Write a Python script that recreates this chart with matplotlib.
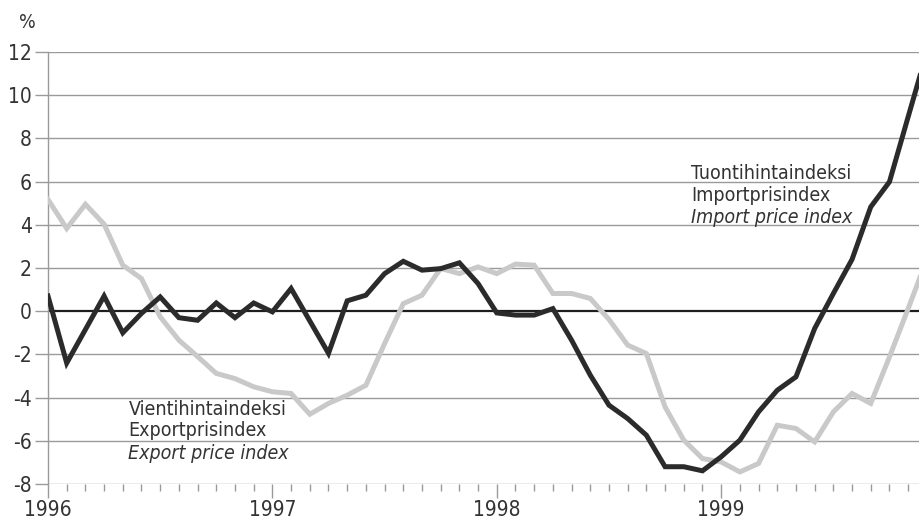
import numpy as np
import matplotlib
matplotlib.use("Agg")
import matplotlib.pyplot as plt

# monthly values, Jan 1996 .. Dec 1999 (month index 0..47)
months = np.arange(48)
import_index = [0.7, -2.4, -0.85, 0.7, -1.0, -0.1, 0.66, -0.3, -0.42, 0.38,
                -0.3, 0.38, -0.03, 1.05, -0.45, -1.95, 0.48, 0.74, 1.74, 2.31,
                1.9, 1.97, 2.24, 1.28, -0.08, -0.18, -0.18, 0.12, -1.34, -2.96,
                -4.35, -4.97, -5.74, -7.2, -7.2, -7.39, -6.74, -5.97, -4.66, -3.66,
                -3.04, -0.8, 0.82, 2.4, 4.83, 5.99, 9.0, 12.0]
export_index = [5.17, 3.83, 4.95, 4.03, 2.13, 1.51, -0.26, -1.34, -2.1, -2.88,
                -3.12, -3.5, -3.73, -3.81, -4.77, -4.27, -3.89, -3.43, -1.5, 0.35,
                0.74, 1.98, 1.74, 2.05, 1.74, 2.18, 2.13, 0.82, 0.82, 0.59,
                -0.38, -1.57, -1.96, -4.43, -5.97, -6.82, -6.98, -7.44, -7.05, -5.28,
                -5.43, -6.05, -4.66, -3.81, -4.27, -2.12, 0.12, 2.4]
years = ["1996", "1997", "1998", "1999"]
yticks = list(range(-8, 13, 2))

FONT = dict(family="DejaVu Sans", stretch="condensed")
GRID = "#9a9a9a"
TXT = "#333333"

fig = plt.figure(figsize=(9.19, 5.21), dpi=100)
ax = fig.add_axes([48 / 919, 37 / 521, 1 - 48 / 919, (484 - 52) / 521])

for v in yticks:
    if v != 0:
        ax.axhline(v, color=GRID, lw=1.0, zorder=1)
ax.axhline(0, color="#1e1e1e", lw=1.6, zorder=2)

ax.plot(months, export_index, color="#c9c9c9", lw=3.6, zorder=3,
        solid_joinstyle="miter")
ax.plot(months, import_index, color="#2b2b2b", lw=3.6, zorder=4,
        solid_joinstyle="miter")

ax.set_xlim(0, 46.58)
ax.set_ylim(-8, 12)

for s in ["top", "right", "bottom"]:
    ax.spines[s].set_visible(False)
ax.spines["left"].set_color(GRID)
ax.spines["left"].set_linewidth(1.0)

ax.set_yticks(yticks)
ax.set_yticklabels([str(v) for v in yticks], fontsize=15, color=TXT)
ax.tick_params(axis="y", direction="out", length=9.5, width=1.0, color=GRID, pad=2)

ax.set_xticks(np.arange(0, 48, 12))
ax.set_xticklabels(years, fontsize=15, color=TXT)
ax.set_xticks(np.arange(0, 47), minor=True)
ax.tick_params(axis="x", which="major", direction="out", length=10, width=1.0,
               color=GRID, pad=1.5)
ax.tick_params(axis="x", which="minor", direction="out", length=5, width=1.0,
               color=GRID)
for lab in ax.get_xticklabels() + ax.get_yticklabels():
    lab.set_family("DejaVu Sans")
    lab.set_stretch("condensed")

fig.text(19 / 919, 1 - 22 / 521, "%", fontsize=14, color=TXT, va="center",
         ha="left", **FONT)

# series labels
ax.text(34.4, 6.8, "Tuontihintaindeksi\nImportprisindex", fontsize=14,
        color=TXT, va="top", ha="left", linespacing=1.15, **FONT)
ax.text(34.4, 4.78, "Import price index", fontsize=14, color=TXT,
        va="top", ha="left", style="italic", **FONT)
ax.text(4.3, -4.1, "Vientihintaindeksi\nExportprisindex", fontsize=14,
        color=TXT, va="top", ha="left", linespacing=1.15, **FONT)
ax.text(4.3, -6.13, "Export price index", fontsize=14, color=TXT,
        va="top", ha="left", style="italic", **FONT)

fig.savefig("out.png", dpi=100)
